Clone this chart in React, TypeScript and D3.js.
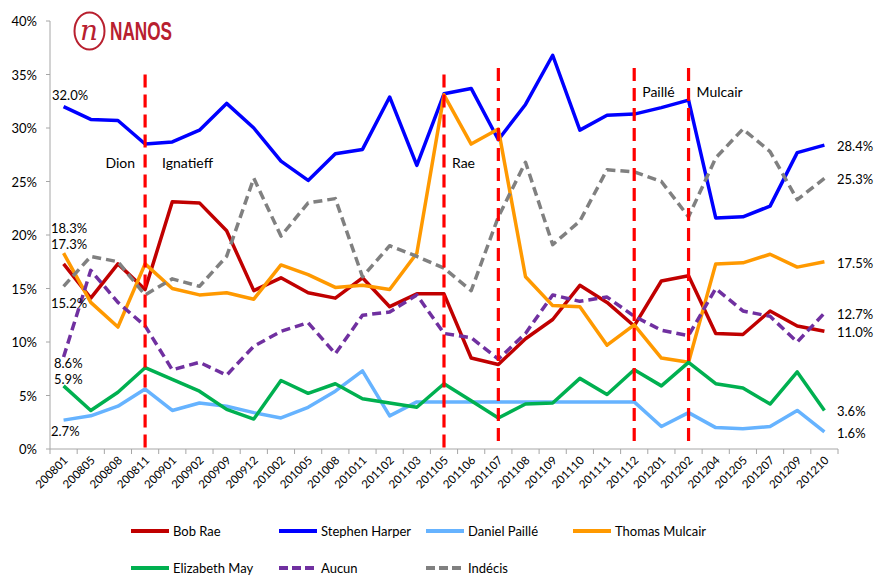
import React from "react";
import * as d3 from "d3";

const categories = ["200801","200805","200808","200811","200901","200902","200909","200912","201002","201005","201008","201011","201102","201103","201105","201106","201107","201108","201109","201110","201111","201112","201201","201202","201204","201205","201207","201209","201210"];

const bobRae = [17.3,14.1,17.3,14.9,23.1,23.0,20.4,14.8,16.0,14.6,14.1,16.0,13.3,14.5,14.5,8.5,7.9,10.3,12.1,15.3,13.7,11.5,15.7,16.2,10.8,10.7,12.9,11.5,11.0];
const harper = [32.0,30.8,30.7,28.5,28.7,29.8,32.3,30.0,26.9,25.1,27.6,28.0,32.9,26.5,33.2,33.7,28.9,32.2,36.8,29.8,31.2,31.3,31.9,32.6,21.6,21.7,22.7,27.7,28.4];
const paille = [2.7,3.1,4.0,5.6,3.6,4.3,4.0,3.4,2.9,3.9,5.4,7.3,3.1,4.4,4.4,4.4,4.4,4.4,4.4,4.4,4.4,4.4,2.1,3.4,2.0,1.9,2.1,3.6,1.6];
const mulcair = [18.3,13.7,11.4,17.3,15.0,14.4,14.6,14.0,17.2,16.3,15.1,15.3,14.9,18.3,33.1,28.5,29.9,16.1,13.4,13.3,9.7,11.6,8.5,8.1,17.3,17.4,18.2,17.0,17.5];
const may = [5.9,3.6,5.3,7.6,6.5,5.4,3.7,2.8,6.4,5.2,6.1,4.7,4.3,3.9,6.1,4.5,2.9,4.2,4.3,6.6,5.1,7.4,5.9,8.1,6.1,5.7,4.2,7.2,3.6];
const aucun = [8.6,16.7,13.7,11.5,7.4,8.1,6.9,9.6,11.0,11.8,8.9,12.5,12.8,14.4,10.8,10.4,8.4,10.8,14.4,13.8,14.2,12.4,11.1,10.6,15.0,12.9,12.4,10.0,12.7];
const indecis = [15.2,18.0,17.5,14.4,15.9,15.2,18.0,25.3,19.9,23.0,23.4,16.1,19.0,18.0,16.9,14.8,21.7,26.8,19.1,21.3,26.1,25.9,25.0,21.7,27.2,29.9,27.8,23.3,25.3];

const yTicks = [0,5,10,15,20,25,30,35,40];

const seriesNames = ["Bob Rae","Stephen Harper","Daniel Paillé","Thomas Mulcair","Elizabeth May","Aucun","Indécis"];
const seriesColors = ["#c00000","#0000ff","#66b3ff","#ff9900","#00b050","#7030a0","#808080"];
const seriesDashed = [false,false,false,false,false,true,true];
const seriesValues = [bobRae,harper,paille,mulcair,may,aucun,indecis];

const leaderChanges = ["200811","201105","201107","201112","201202"];

const FONT = "Lato, 'Open Sans', sans-serif";

export default function App() {
  const W = 885, H = 577;
  const x = d3.scaleBand<string>().domain(categories).range([50, 838]);
  const y = d3.scaleLinear().domain([0, 40]).range([449, 21]);
  const cx = (c: string) => (x(c) as number) + x.bandwidth() / 2;
  const line = d3.line<number>().x((_, i) => cx(categories[i])).y(d => y(d));

  const first = (arr: number[]) => arr[0];
  const last = (arr: number[]) => arr[arr.length - 1];
  const fmt = (v: number) => v.toFixed(1) + "%";

  const leftLabels = [
    { v: harper, dy: -12, dx: 1 },
    { v: mulcair, dy: -25, dx: 0 },
    { v: bobRae, dy: -20, dx: 0 },
    { v: indecis, dy: 17, dx: 0 },
    { v: aucun, dy: 6, dx: 3 },
    { v: may, dy: -7, dx: 3 },
    { v: paille, dy: 11, dx: 0 },
  ];
  const rightLabels = [harper, indecis, mulcair, aucun, bobRae, may, paille];

  const legendCols = [131, 279, 426, 573];
  const legendRows = [531, 568];

  return (
    <svg width={W} height={H} style={{ display: "block", position: "absolute", left: 0, top: 0, background: "#fff" }} fontFamily={FONT}>
      <rect x={0} y={0} width={W} height={H} fill="#fff" />
      {/* logo */}
      <g>
        <ellipse cx={89.5} cy={31} rx={15} ry={18.5} fill="none" stroke="#b8202f" strokeWidth={2} />
        <text x={89} y={40} textAnchor="middle" fontFamily="'DejaVu Serif', serif" fontStyle="italic" fontSize={28} fill="#b8202f">n</text>
        <text x={110} y={40} fontFamily="'Liberation Sans', Arial, sans-serif" fontWeight="bold" fontSize={25} fill="#b8202f" textLength={62} lengthAdjust="spacingAndGlyphs">NANOS</text>
      </g>
      {/* y axis */}
      <line x1={50} x2={50} y1={y(40)} y2={y(0)} stroke="#a6a6a6" strokeWidth={1} />
      {yTicks.map(t => (
        <g key={t}>
          <line x1={46} x2={50} y1={y(t)} y2={y(t)} stroke="#a6a6a6" />
          <text x={37} y={y(t)} textAnchor="end" dominantBaseline="central" fontSize={13} fill="#000">{t}%</text>
        </g>
      ))}
      {/* x axis */}
      <line x1={50} x2={838} y1={y(0)} y2={y(0)} stroke="#a6a6a6" />
      {categories.map((c) => (
        <line key={"t" + c} x1={(x(c) as number)} x2={(x(c) as number)} y1={y(0)} y2={y(0) + 5} stroke="#a6a6a6" />
      ))}
      <line x1={838} x2={838} y1={y(0)} y2={y(0) + 5} stroke="#a6a6a6" />
      {categories.map(c => (
        <text key={"l" + c} transform={`translate(${cx(c) + 5},${y(0) + 12}) rotate(-45)`} textAnchor="end" fontSize={11.5} fill="#000">{c}</text>
      ))}
      {/* series */}
      {seriesValues.map((vals, s) => (
        <path key={seriesNames[s]} d={line(vals) || ""} fill="none" stroke={seriesColors[s]} strokeWidth={3.5}
          strokeDasharray={seriesDashed[s] ? "9,5" : undefined} strokeLinejoin="round" />
      ))}
      {/* leader change markers */}
      {leaderChanges.map((c, i) => (
        <line key={"m" + c} x1={cx(c)} x2={cx(c)} y1={y(i < 2 ? 35 : 35.6)} y2={y(i < 2 ? 0 : 0.2)} stroke="#ff0000" strokeWidth={3.2} strokeDasharray="13,7" />
      ))}
      <text x={cx("200811") - 10} y={162} textAnchor="end" dominantBaseline="central" fontSize={14}>Dion</text>
      <text x={cx("200811") + 17} y={162} dominantBaseline="central" fontSize={14}>Ignatieff</text>
      <text x={cx("201105") + 8} y={162} dominantBaseline="central" fontSize={14}>Rae</text>
      <text x={cx("201112") + 8} y={91} dominantBaseline="central" fontSize={14}>Paillé</text>
      <text x={cx("201202") + 8} y={91} dominantBaseline="central" fontSize={14}>Mulcair</text>
      {/* data labels */}
      {leftLabels.map((l, i) => (
        <text key={"ll" + i} x={51 + l.dx} y={y(first(l.v)) + l.dy} dominantBaseline="central" fontSize={13}>{fmt(first(l.v))}</text>
      ))}
      {rightLabels.map((v, i) => (
        <text key={"rl" + i} x={837} y={y(last(v)) + 1} dominantBaseline="central" fontSize={13}>{fmt(last(v))}</text>
      ))}
      {/* legend */}
      {seriesNames.map((n, i) => {
        const col = i < 4 ? i : i - 4;
        const row = i < 4 ? 0 : 1;
        const lx = legendCols[col];
        const ly = legendRows[row];
        return (
          <g key={"lg" + n}>
            <line x1={lx} x2={lx + 38} y1={ly} y2={ly} stroke={seriesColors[i]} strokeWidth={4}
              strokeDasharray={seriesDashed[i] ? "9,4" : undefined} />
            <text x={lx + 42} y={ly} dominantBaseline="central" fontSize={13}>{n}</text>
          </g>
        );
      })}
    </svg>
  );
}
